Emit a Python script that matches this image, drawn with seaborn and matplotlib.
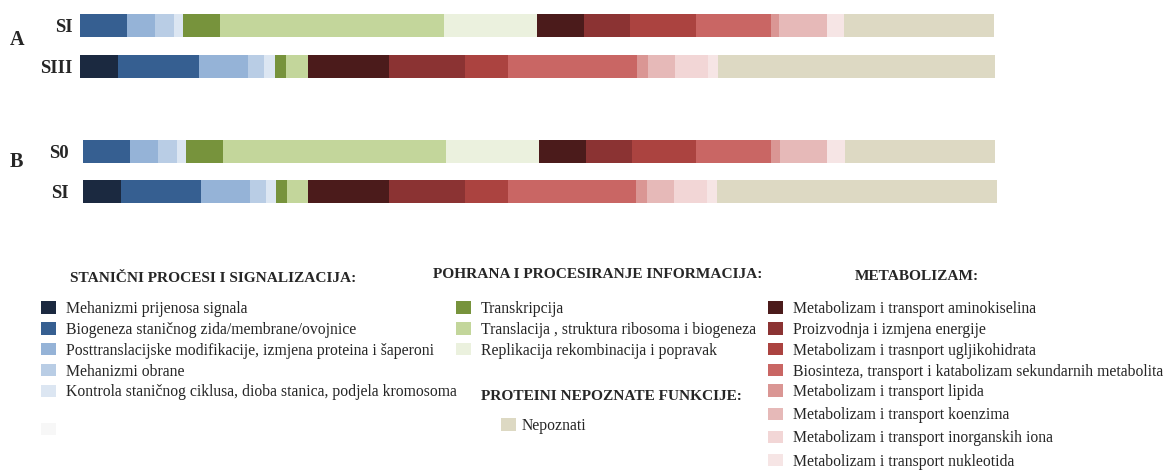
import matplotlib
matplotlib.use("Agg")
import matplotlib.pyplot as plt
from matplotlib.patches import Patch
import numpy as np
import pandas as pd
import seaborn as sns

# ---- categories (COG functional groups) ----
cell_cats = [
    "Mehanizmi prijenosa signala",
    "Biogeneza staničnog zida/membrane/ovojnice",
    "Posttranslacijske modifikacije, izmjena proteina i šaperoni",
    "Mehanizmi obrane",
    "Kontrola staničnog ciklusa, dioba stanica, podjela kromosoma",
]
info_cats = [
    "Transkripcija",
    "Translacija , struktura ribosoma i biogeneza",
    "Replikacija rekombinacija i popravak",
]
metab_cats = [
    "Metabolizam i transport aminokiselina",
    "Proizvodnja i izmjena energije",
    "Metabolizam i trasnport ugljikohidrata",
    "Biosinteza, transport i katabolizam sekundarnih metabolita",
    "Metabolizam i transport lipida",
    "Metabolizam i transport koenzima",
    "Metabolizam i transport inorganskih iona",
    "Metabolizam i transport nukleotida",
]
unknown_cats = ["Nepoznati"]

cell_colors = ["#1b2940", "#365f91", "#95b3d7", "#b9cde5", "#dce6f2"]
info_colors = ["#77933c", "#c3d69b", "#ebf1de"]
metab_colors = ["#4b1b1b", "#8b3333", "#ab4340", "#c96664",
                "#da9694", "#e6b9b8", "#f2d6d6", "#f6e5e5"]
unknown_colors = ["#ddd9c3"]

# ---- share of proteins per category (%), same order as the categories ----
samples_a = ["SI", "SIII"]
samples_b = ["S0", "SI"]
a_si = [0, 5.1, 3.1, 2.0, 1.0, 4.1, 24.4, 10.2,
        5.1, 5.1, 7.2, 8.2, 0.9, 5.2, 0, 1.9, 16.4]
a_siii = [4.1, 8.9, 5.3, 1.8, 1.2, 1.2, 2.4, 0,
          8.8, 8.3, 4.7, 14.1, 1.2, 3.0, 3.6, 1.1, 30.8]
b_s0 = [0, 5.1, 3.0, 2.1, 1.0, 4.1, 24.3, 10.2,
        5.1, 5.1, 7.0, 8.2, 0.9, 5.2, 0, 1.9, 16.4]
b_si = [4.1, 8.8, 5.3, 1.8, 1.1, 1.2, 2.3, 0,
        8.8, 8.3, 4.7, 14.0, 1.2, 3.0, 3.5, 1.2, 30.6]

categories = cell_cats + info_cats + metab_cats + unknown_cats
colors = cell_colors + info_colors + metab_colors + unknown_colors

sns.set_theme(style="white")
plt.rcParams["font.family"] = ["Liberation Serif", "DejaVu Serif"]

W, H = 1166, 470
fig = plt.figure(figsize=(W / 100, H / 100), dpi=100)


def long_table(samples, rows):
    recs = []
    for s, vals in zip(samples, rows):
        cum = np.cumsum(vals)
        for cat, v, c in zip(categories, vals, cum):
            recs.append({"sample": s, "category": cat, "value": v, "end": c})
    return pd.DataFrame(recs)


def stacked(ax, samples, rows, bar_w):
    df = long_table(samples, rows)
    # draw cumulative ends from the last category backwards so each
    # segment shows between its predecessor's end and its own end
    for cat, col in reversed(list(zip(categories, colors))):
        sub = df[df["category"] == cat]
        sns.barplot(data=sub, x="end", y="sample", order=samples, orient="h",
                    color=col, saturation=1, width=bar_w, ax=ax,
                    linewidth=0, edgecolor="none", errorbar=None)
    ax.set_xlim(0, 100)
    ax.set_ylim(1.5, -0.5)
    ax.set_xlabel("")
    ax.set_ylabel("")
    ax.set_xticks([])
    sns.despine(ax=ax, left=True, bottom=True)
    ax.tick_params(axis="y", length=0)
    for t in ax.get_yticklabels():
        t.set_fontweight("bold")
        t.set_fontsize(13.5)


def fx(px):
    return px / W


def fy(py):
    return 1 - py / H


ax_a = fig.add_axes([fx(80.4), fy(87), 915 / W, 82 / H])
stacked(ax_a, samples_a, [a_si, a_siii], 0.56)
ax_a.tick_params(axis="y", pad=5.5)

ax_b = fig.add_axes([fx(83.4), fy(211.5), 915 / W, 80 / H])
stacked(ax_b, samples_b, [b_s0, b_si], 0.575)
ax_b.tick_params(axis="y", pad=10.5)

fig.text(fx(10), fy(40), "A", fontsize=14.5, fontweight="bold", va="center")
fig.text(fx(10), fy(162), "B", fontsize=14.5, fontweight="bold", va="center")

# ---- legends ----
title_kw = dict(fontsize=11.1, fontweight="bold", va="center")
fig.text(fx(70), fy(278), "STANIČNI PROCESI I SIGNALIZACIJA:", **title_kw)
fig.text(fx(433), fy(275), "POHRANA I PROCESIRANJE INFORMACIJA:", **title_kw)
fig.text(fx(855), fy(277), "METABOLIZAM:", **title_kw)
fig.text(fx(481), fy(397), "PROTEINI NEPOZNATE FUNKCIJE:", **title_kw)

leg_kw = dict(loc="upper left", bbox_transform=fig.transFigure, frameon=False,
              borderpad=0, borderaxespad=0, handlelength=0.96, handleheight=0.83,
              handletextpad=0.64, prop={"family": "Liberation Serif", "size": 11.3})


def add_legend(labels, cols, x, y, spacing, **kw):
    handles = [Patch(facecolor=c, edgecolor="none") for c in cols]
    opts = dict(leg_kw)
    opts.update(kw)
    leg = fig.legend(handles, labels, bbox_to_anchor=(fx(x), fy(y)),
                     labelspacing=spacing, **opts)
    return leg


add_legend(cell_cats, cell_colors, 40.7, 301, 0.31)
add_legend(info_cats, info_colors, 455.7, 301, 0.31)
add_legend(metab_cats[:4], metab_colors[:4], 767.7, 301, 0.31)
add_legend(metab_cats[4:], metab_colors[4:], 767.7, 384, 0.46)
add_legend(unknown_cats, unknown_colors, 501, 418, 0.3, handletextpad=0.35)
add_legend([""], ["#f7f7f7"], 40.7, 422.6, 0.3)

fig.savefig("out.png", dpi=100)
